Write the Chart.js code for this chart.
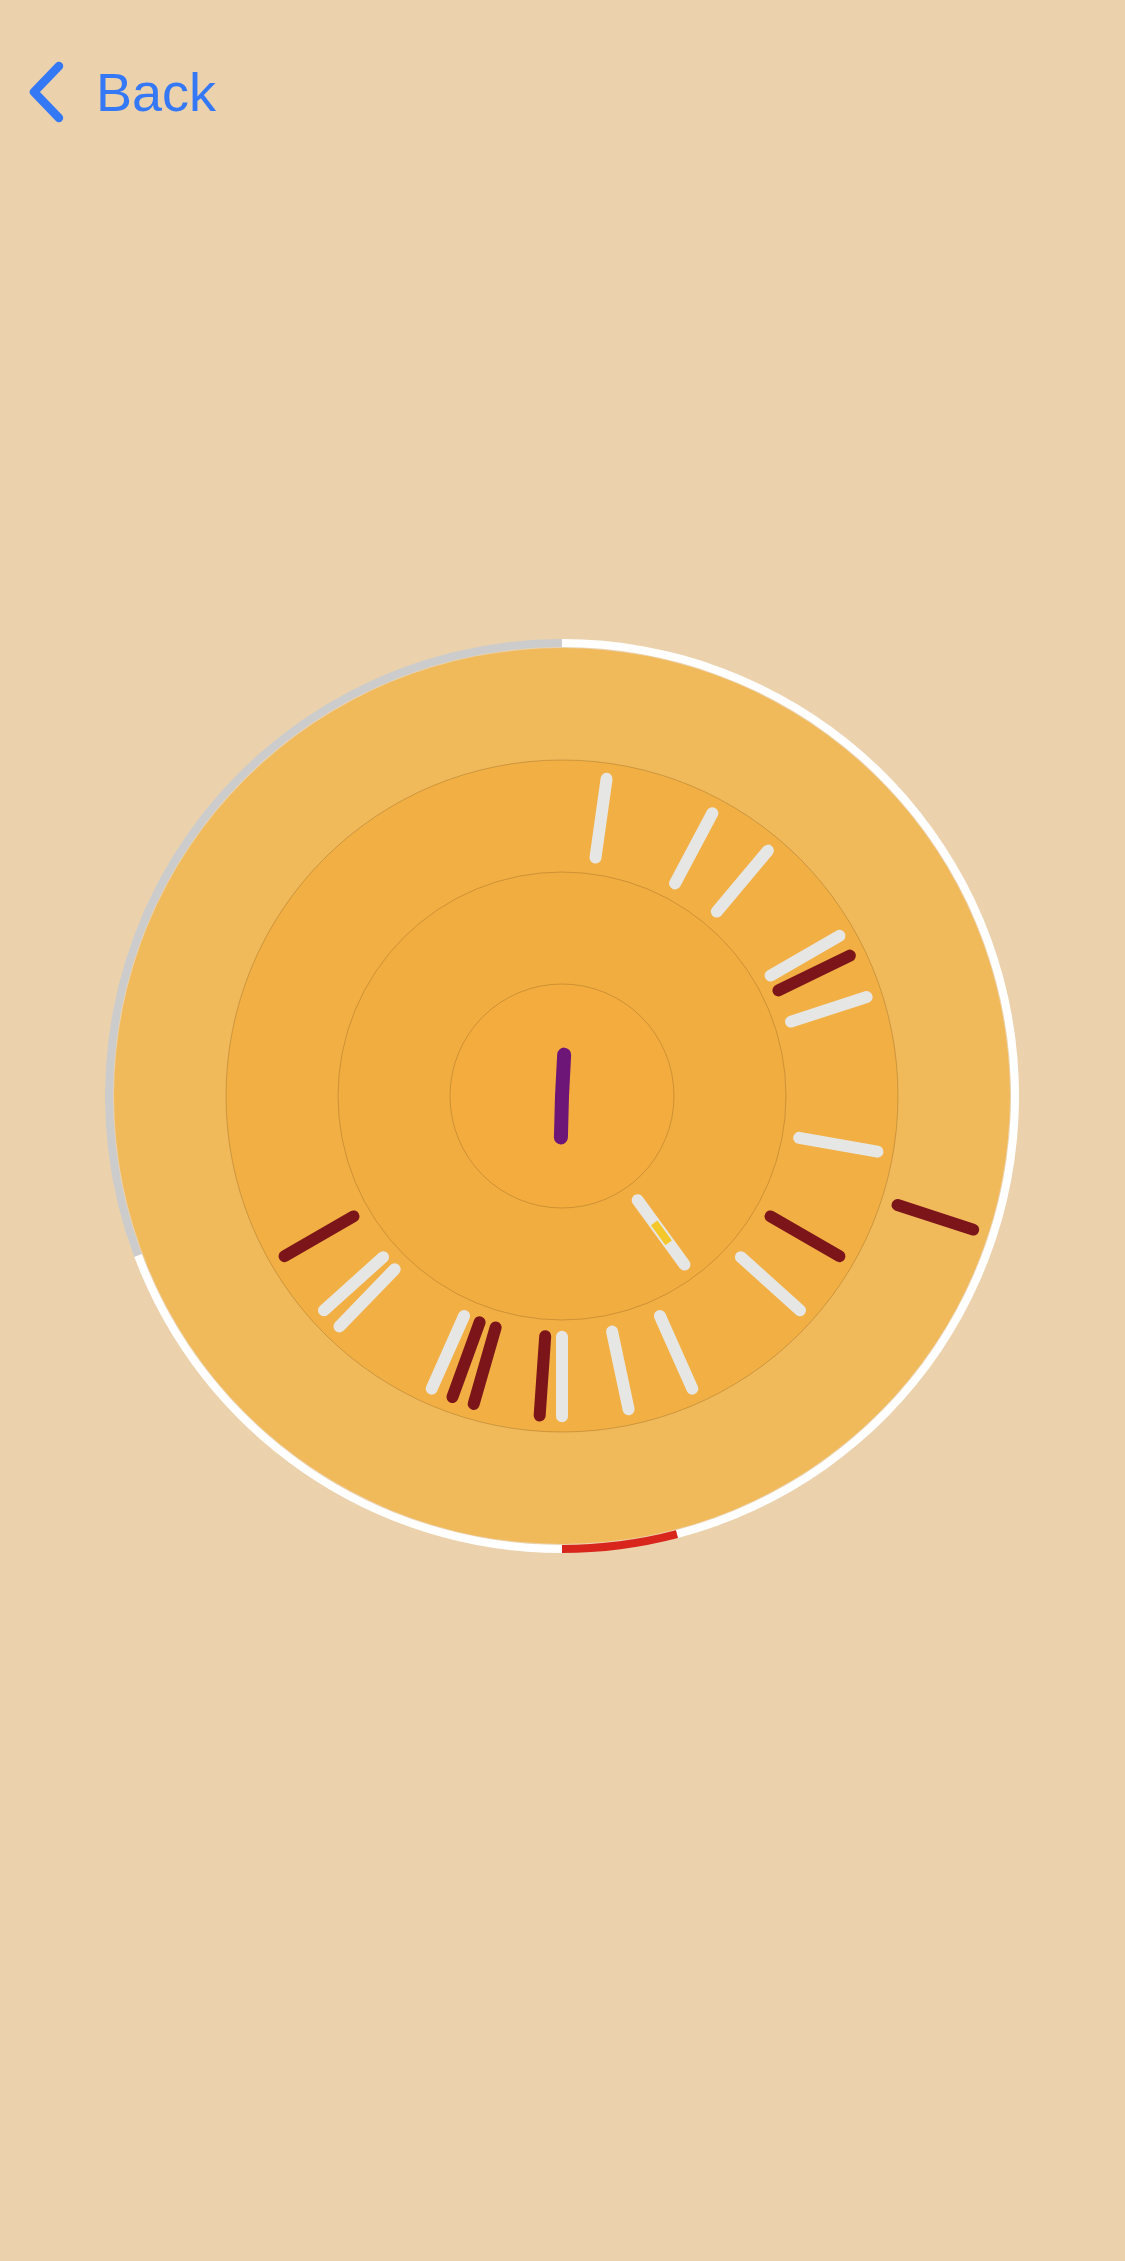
<!DOCTYPE html>
<html>
<head>
<meta charset="utf-8">
<script src="https://cdn.jsdelivr.net/npm/chart.js@4.4.1/dist/chart.umd.min.js"></script>
<style>
  html, body { margin: 0; padding: 0; width: 1125px; height: 2261px; overflow: hidden; background: #EBD2AD; }
  canvas { position: absolute; }
  #back { position: absolute; left: 0; top: 0; }
</style>
</head>
<body>
<svg id="back" width="300" height="160">
  <path d="M59 66 L34 92 L59 118" stroke="#3478F6" stroke-width="8.5" fill="none" stroke-linecap="round" stroke-linejoin="round"/>
  <text x="96" y="111" font-family="Liberation Sans, Arial, sans-serif" font-size="54" fill="#3478F6">Back</text>
</svg>

<canvas id="discs" width="896" height="896" style="left:114px;top:648px"></canvas>
<canvas id="ring" width="914" height="914" style="left:105px;top:639px"></canvas>
<canvas id="spokes" width="896" height="896" style="left:114px;top:648px"></canvas>

<script>
  // データ（角度は真上から時計回り、度）
  const ringDegrees = [165.3, 14.7, 69.4, 110.6];
  const ringKind = ["open", "now", "open", "past"];

  const discLevels = [1, 2, 3, 4];

  const spokeAngle = [8, 28, 40, 60, 64, 72, 100, 108, 120, 132, 144, 156, 168, 180, 184, 196, 200, 204, 224, 228, 240];
  const spokeFrom  = [2.15, 2.15, 2.15, 2.15, 2.15, 2.15, 2.15, 3.15, 2.15, 2.15, 1.15, 2.15, 2.15, 2.15, 2.15, 2.15, 2.15, 2.15, 2.15, 2.15, 2.15];
  const spokeTo    = [2.86, 2.86, 2.86, 2.86, 2.86, 2.86, 2.86, 3.86, 2.86, 2.86, 1.86, 2.86, 2.86, 2.86, 2.86, 2.86, 2.86, 2.86, 2.86, 2.86, 2.86];
  const spokeKind  = ["a", "a", "a", "a", "b", "a", "a", "b", "b", "a", "a", "a", "a", "a", "b", "b", "b", "a", "a", "a", "b"];

  const markerAngle = 144;
  const markerFrom = 1.40;
  const markerTo = 1.62;

  const handAngle = [3, 0, 181.5];
  const handRadius = [0.37, 0, 0.37];

  // 色
  const ringColors = { open: "#FFFFFF", now: "#D9261C", past: "#CCCCCC" };
  const discColors = ["#F3AC3D", "#F2AD40", "#F2AF43", "#F0B95A"];
  const spokeColors = { a: "#E6E6E4", b: "#7B151A" };

  // 極座標 → x,y
  function toXY(angle, r) {
    const t = angle * Math.PI / 180;
    return { x: r * Math.sin(t), y: r * Math.cos(t) };
  }

  const quiet = {
    responsive: false,
    animation: false,
    events: [],
    plugins: { legend: { display: false }, tooltip: { enabled: false } },
  };

  // 同心円
  new Chart(document.getElementById("discs"), {
    type: "polarArea",
    data: {
      labels: [""],
      datasets: discLevels.map((v, i) => ({
        data: [v],
        backgroundColor: discColors[i],
        borderWidth: 0,
      })),
    },
    options: {
      ...quiet,
      layout: { padding: 0 },
      scales: {
        r: {
          min: 0,
          max: 4,
          ticks: { display: false, stepSize: 1, z: 1 },
          grid: {
            // 一番外の円はリングの下なので描かない
            color: (c) => (c.tick && c.tick.value === 4 ? "rgba(0,0,0,0)" : "rgba(150,105,40,0.4)"),
            lineWidth: 1,
            z: 1,
          },
          angleLines: { display: false },
          pointLabels: { display: false },
        },
      },
    },
  });

  // 外周リング
  new Chart(document.getElementById("ring"), {
    type: "doughnut",
    data: {
      labels: ringKind,
      datasets: [{
        data: ringDegrees,
        backgroundColor: ringKind.map(k => ringColors[k]),
        borderWidth: 0,
        hoverOffset: 0,
        offset: 0,
      }],
    },
    options: {
      ...quiet,
      layout: { padding: 0 },
      cutout: 449,
    },
  });

  // スポーク
  const spokeSets = spokeAngle.map((a, i) => ({
    data: [toXY(a, spokeFrom[i]), toXY(a, spokeTo[i])],
    borderColor: spokeColors[spokeKind[i]],
    borderWidth: 12,
    borderCapStyle: "round",
    showLine: true,
    pointRadius: 0,
    order: 3,
  }));

  spokeSets.push({
    data: [toXY(markerAngle, markerFrom), toXY(markerAngle, markerTo)],
    borderColor: "#F4C82B",
    borderWidth: 8,
    borderCapStyle: "butt",
    showLine: true,
    pointRadius: 0,
    order: 1,
  });

  spokeSets.push({
    data: handAngle.map((a, i) => toXY(a, handRadius[i])),
    borderColor: "#6E1678",
    borderWidth: 14,
    borderCapStyle: "round",
    borderJoinStyle: "round",
    showLine: true,
    pointRadius: 0,
    order: 1,
  });

  new Chart(document.getElementById("spokes"), {
    type: "scatter",
    data: { datasets: spokeSets },
    options: {
      ...quiet,
      layout: { padding: 0 },
      scales: {
        x: { type: "linear", min: -4, max: 4, display: false },
        y: { type: "linear", min: -4, max: 4, display: false },
      },
    },
  });
</script>
</body>
</html>
